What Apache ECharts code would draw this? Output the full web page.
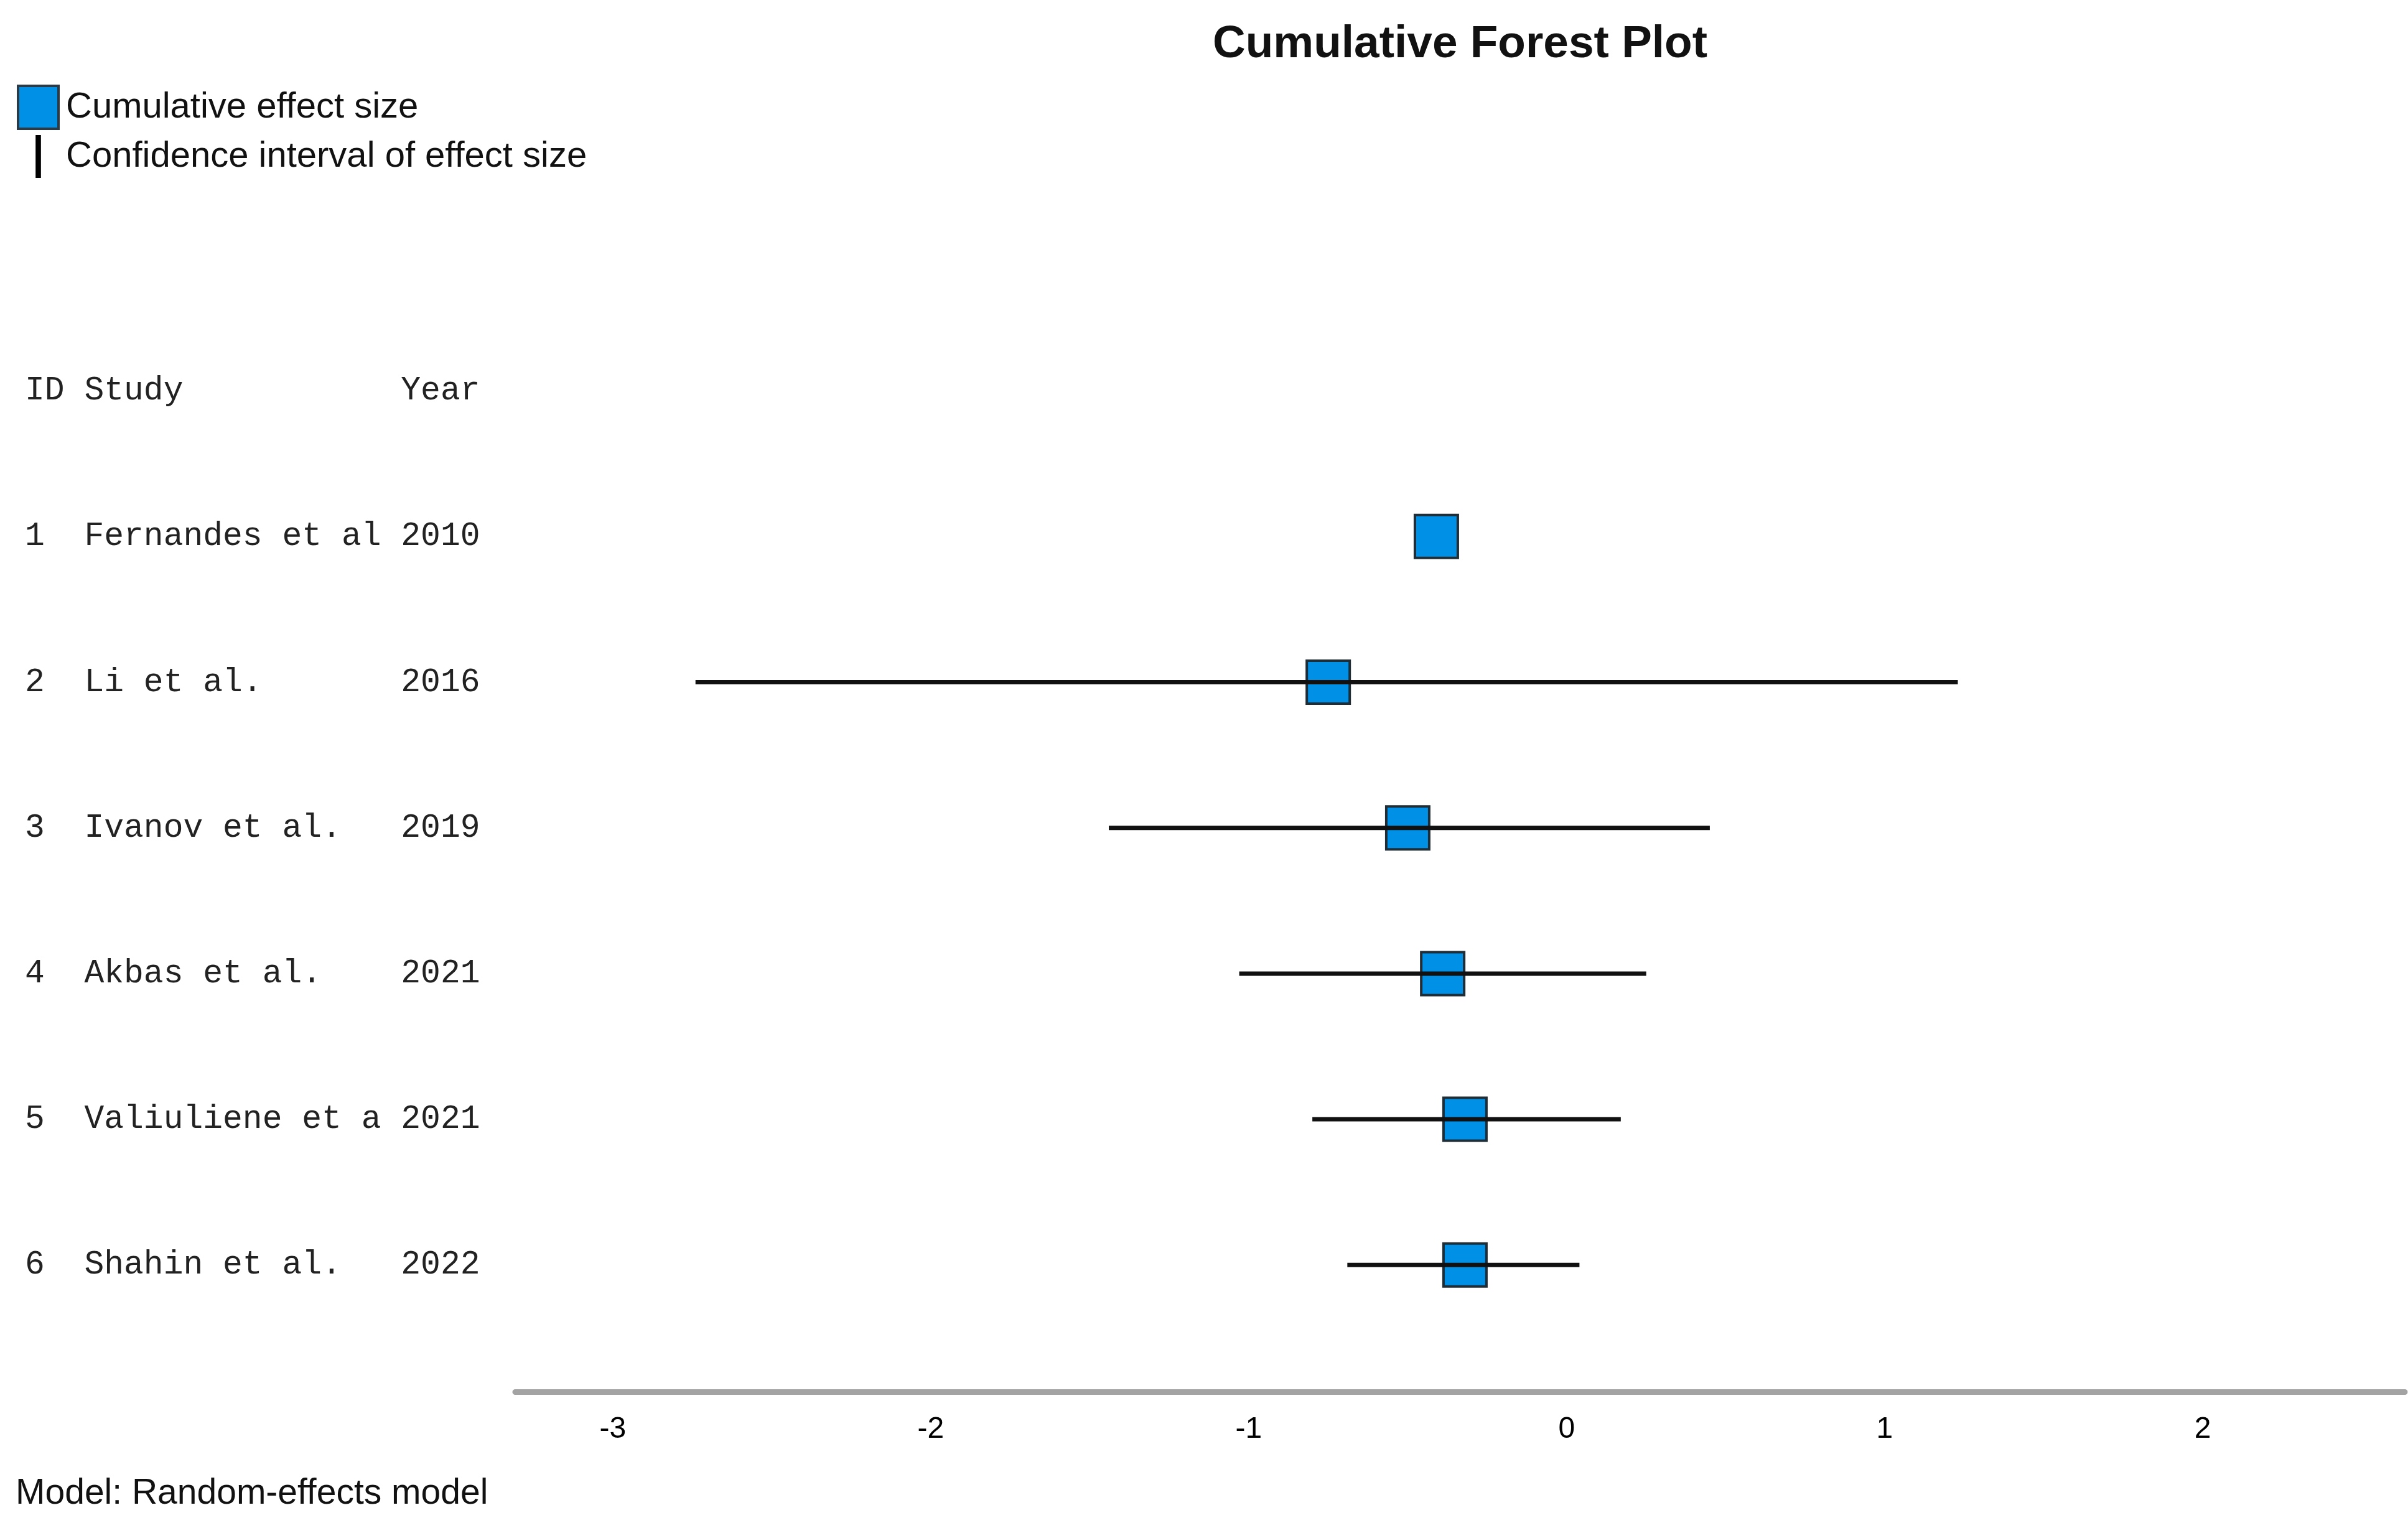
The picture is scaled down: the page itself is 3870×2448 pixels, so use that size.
<!DOCTYPE html>
<html>
<head>
<meta charset="utf-8">
<script src="https://cdn.jsdelivr.net/npm/echarts@6/dist/echarts.min.js"></script>
<style>html,body{margin:0;padding:0;background:#fff;}#c{width:3870px;height:2448px;}</style>
</head>
<body>
<div id="c"></div>
<script>
const headerRow = ['ID', 'Study', 'Year'];
const ids = ['1', '2', '3', '4', '5', '6'];
const studies = ['Fernandes et al', 'Li et al.', 'Ivanov et al.', 'Akbas et al.', 'Valiuliene et a', 'Shahin et al.'];
const years = ['2010', '2016', '2019', '2021', '2021', '2022'];
const effect = [-0.41, -0.75, -0.50, -0.39, -0.32, -0.32];
const ciLow = [null, -2.74, -1.44, -1.03, -0.80, -0.69];
const ciHigh = [null, 1.23, 0.45, 0.25, 0.17, 0.04];
const xTicks = [-3, -2, -1, 0, 1, 2];

function rowText(a, b, c) { return a.padEnd(3, ' ') + b.padEnd(16, ' ') + c; }
const rowLabels = [rowText(headerRow[0], headerRow[1], headerRow[2])]
  .concat(ids.map((d, i) => rowText(d, studies[i], years[i])));

const squareData = effect.map((v, i) => [v, i + 1]);
const ciData = ciLow.map((v, i) => [v, ciHigh[i], i + 1]);

const chart = echarts.init(document.getElementById('c'));
chart.setOption({
  backgroundColor: '#ffffff',
  animation: false,
  title: [
    { text: 'Cumulative Forest Plot', left: 1944, top: 30, padding: 5,
      textStyle: { fontFamily: 'Liberation Sans', fontSize: 73, fontWeight: 'bold', color: '#111' } },
    { text: 'Model: Random-effects model', left: 20, top: 2368, padding: 5,
      textStyle: { fontFamily: 'Liberation Sans', fontSize: 57, fontWeight: 'normal', color: '#111' } }
  ],
  legend: {
    orient: 'vertical', left: 27, top: 136, padding: 0,
    itemWidth: 65, itemHeight: 69, itemGap: 8,
    textStyle: { fontFamily: 'Liberation Sans', fontSize: 58, color: '#111', padding: [16, 0, 0, 7] },
    data: [
      { name: 'Cumulative effect size', icon: 'rect',
        itemStyle: { color: '#0091E6', borderColor: '#2b3a44', borderWidth: 4 } },
      { name: 'Confidence interval of effect size', icon: 'path://M0,0L1,0L1,8L0,8Z',
        itemStyle: { color: '#000', borderWidth: 0 } }
    ]
  },
  grid: { left: 828, right: 5, top: 394, bottom: 211 },
  xAxis: {
    type: 'value', min: -3.307, max: 2.636,
    splitLine: { show: false }, axisTick: { show: false },
    axisLine: { show: true, onZero: false, lineStyle: { color: '#a3a3a3', width: 9 } },
    axisLabel: {
      margin: 37, color: '#000', fontFamily: 'Liberation Sans', fontSize: 48,
      showMinLabel: true, showMaxLabel: true,
      formatter: v => { const r = Math.round(v); return (Math.abs(v - r) < 1e-6 && xTicks.indexOf(r) >= 0) ? String(r) : ''; }
    }
  },
  yAxis: {
    type: 'value', inverse: true, min: -1, max: 6.87, interval: 1,
    splitLine: { show: false }, axisTick: { show: false },
    axisLine: { show: false, onZero: false },
    axisLabel: {
      align: 'left', margin: 788, color: '#222', fontFamily: 'Liberation Mono', fontSize: 53,
      padding: [6, 0, 0, 0],
      formatter: v => { const r = Math.round(v); return (Math.abs(v - r) < 1e-6 && r >= 0 && r < rowLabels.length) ? rowLabels[r] : ''; }
    }
  },
  series: [
    {
      name: 'Cumulative effect size', type: 'custom',
      itemStyle: { color: '#0091E6', borderColor: '#2b3a44', borderWidth: 4 },
      encode: { x: 0, y: 1 },
      data: squareData,
      renderItem: (params, api) => {
        const p = api.coord([api.value(0), api.value(1)]);
        const s = 69;
        return { type: 'rect', shape: { x: p[0] - s / 2, y: p[1] - s / 2, width: s, height: s },
          style: { fill: '#0091E6', stroke: '#1f2d36', lineWidth: 4 } };
      }
    },
    {
      name: 'Confidence interval of effect size', type: 'custom',
      itemStyle: { color: '#000' },
      encode: { x: [0, 1], y: 2 },
      data: ciData,
      renderItem: (params, api) => {
        const lo = api.value(0), hi = api.value(1), row = api.value(2);
        if (isNaN(lo) || isNaN(hi)) return null;
        const a = api.coord([lo, row]);
        const b = api.coord([hi, row]);
        return { type: 'line', shape: { x1: a[0], y1: a[1], x2: b[0], y2: b[1] },
          style: { stroke: '#111', lineWidth: 7, lineCap: 'butt' } };
      }
    }
  ]
});
</script>
</body>
</html>
